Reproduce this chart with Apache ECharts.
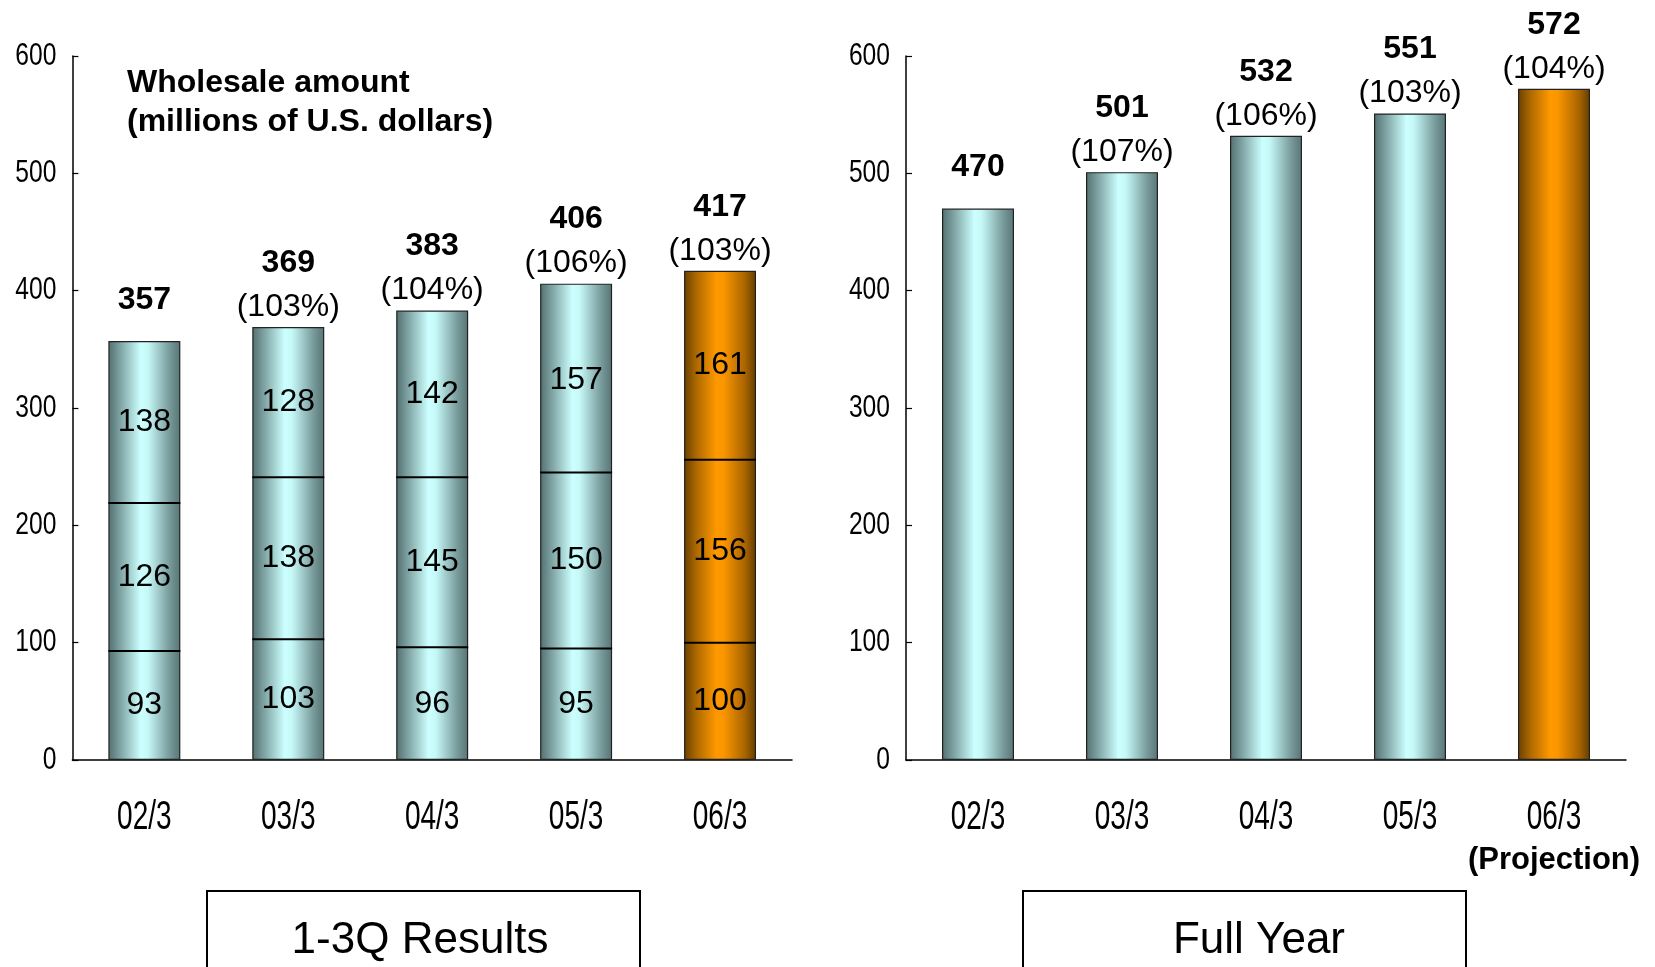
<!DOCTYPE html>
<html>
<head>
<meta charset="utf-8">
<title>Wholesale amount</title>
<script src="https://cdn.jsdelivr.net/npm/echarts@6/dist/echarts.min.js"></script>
<style>
  html, body { margin: 0; padding: 0; background: #fff; }
  #chart { width: 1655px; height: 967px; }
</style>
</head>
<body>
<div id="chart"></div>
<script>
// Fiscal years (year ending March)
const categories = ['02/3', '03/3', '04/3', '05/3', '06/3'];

// 1-3Q results, by quarter (millions of U.S. dollars)
const q1Values = [93, 103, 96, 95, 100];
const q2Values = [126, 138, 145, 150, 156];
const q3Values = [138, 128, 142, 157, 161];
const ytdTotals = [357, 369, 383, 406, 417];
const ytdGrowth = [null, 103, 104, 106, 103];

// Full-year amounts (last one is a projection)
const fullYearTotals = [470, 501, 532, 551, 572];
const fullYearGrowth = [null, 107, 106, 103, 104];

// Value axis range
const yMin = 0;
const yMax = 600;
const yStep = 100;

const highlightIndex = categories.length - 1;

const tealFill = new echarts.graphic.LinearGradient(0, 0, 1, 0, [
  { offset: 0, color: '#527070' },
  { offset: 0.15, color: '#7b9e9e' },
  { offset: 0.45, color: '#ccffff' },
  { offset: 0.55, color: '#c6f8f8' },
  { offset: 0.85, color: '#789a9a' },
  { offset: 1, color: '#577575' }
]);
const orangeFill = new echarts.graphic.LinearGradient(0, 0, 1, 0, [
  { offset: 0, color: '#6a4100' },
  { offset: 0.18, color: '#b06a00' },
  { offset: 0.45, color: '#ff9900' },
  { offset: 0.55, color: '#fa9600' },
  { offset: 0.85, color: '#a86400' },
  { offset: 1, color: '#643e00' }
]);

const sans = 'Liberation Sans, Arial, sans-serif';
// axis tick labels get their own (near-black) ink so they can be found and condensed after layout
const axisInk = '#010101';
const categoryCondense = 0.70;
const valueCondense = 0.77;

function barItems(values) {
  return values.map((v, i) => ({
    value: v,
    itemStyle: { color: i === highlightIndex ? orangeFill : tealFill }
  }));
}

function totalLabel(growth) {
  return {
    show: true,
    position: 'top',
    distance: 0,
    formatter: (p) => {
      const g = growth[p.dataIndex];
      return g == null ? '{v|' + p.value + '}\n{g| }' : '{v|' + p.value + '}\n{p|(' + g + '%)}';
    },
    rich: {
      v: { fontFamily: sans, fontWeight: 'bold', fontSize: 32, lineHeight: 48, color: '#000' },
      p: { fontFamily: sans, fontSize: 32, lineHeight: 40, color: '#000' },
      g: { fontSize: 4, lineHeight: 17 }
    }
  };
}

const segmentLabel = {
  show: true,
  position: 'inside',
  fontFamily: sans,
  fontSize: 32,
  color: '#000'
};

// quarter boundaries inside the 1-3Q bars
const boundaries = [];
categories.forEach((c, i) => {
  boundaries.push([i, q1Values[i]]);
  boundaries.push([i, q1Values[i] + q2Values[i]]);
});

function xAxisFor(gridIndex) {
  return {
    type: 'category',
    gridIndex: gridIndex,
    data: categories,
    axisLine: { lineStyle: { color: '#000', width: 1.5 } },
    axisTick: { inside: true, length: 14, lineStyle: { color: '#333', width: 1.2 } },
    axisLabel: {
      interval: 0,
      margin: 38,
      fontFamily: sans,
      fontSize: 40,
      lineHeight: 40,
      color: axisInk
    }
  };
}

function yAxisFor(gridIndex) {
  return {
    type: 'value',
    gridIndex: gridIndex,
    min: yMin,
    max: yMax,
    interval: yStep,
    splitLine: { show: false },
    axisLine: { show: true, lineStyle: { color: '#000', width: 1.5 } },
    axisTick: { show: true, inside: true, length: 6, lineStyle: { color: '#000', width: 1.2 } },
    axisLabel: { margin: 16, fontFamily: sans, fontSize: 32, color: axisInk }
  };
}

const chart = echarts.init(document.getElementById('chart'), null, { renderer: 'canvas' });

chart.setOption({
  animation: false,
  backgroundColor: '#fff',
  grid: [
    { left: 72, top: 56, width: 720, height: 704 },
    { left: 906, top: 56, width: 720, height: 704 }
  ],
  xAxis: [xAxisFor(0), xAxisFor(1)],
  yAxis: [yAxisFor(0), yAxisFor(1)],
  series: [
    {
      name: '1-3Q total',
      type: 'bar',
      xAxisIndex: 0,
      yAxisIndex: 0,
      barWidth: '50%',
      barGap: '-100%',
      data: barItems(ytdTotals),
      itemStyle: { borderColor: '#222', borderWidth: 1.2 },
      label: totalLabel(ytdGrowth),
      z: 2
    },
    {
      name: 'Q1',
      type: 'bar',
      stack: 'quarters',
      xAxisIndex: 0,
      yAxisIndex: 0,
      barWidth: '50%',
      data: q1Values,
      itemStyle: { color: 'rgba(0,0,0,0)' },
      label: segmentLabel,
      z: 3
    },
    {
      name: 'Q2',
      type: 'bar',
      stack: 'quarters',
      xAxisIndex: 0,
      yAxisIndex: 0,
      barWidth: '50%',
      data: q2Values,
      itemStyle: { color: 'rgba(0,0,0,0)' },
      label: segmentLabel,
      z: 3
    },
    {
      name: 'Q3',
      type: 'bar',
      stack: 'quarters',
      xAxisIndex: 0,
      yAxisIndex: 0,
      barWidth: '50%',
      data: q3Values,
      itemStyle: { color: 'rgba(0,0,0,0)' },
      label: segmentLabel,
      z: 3
    },
    {
      name: 'Quarter boundaries',
      type: 'custom',
      xAxisIndex: 0,
      yAxisIndex: 0,
      data: boundaries,
      z: 4,
      renderItem: (params, api) => {
        const pt = api.coord([api.value(0), api.value(1)]);
        const half = api.size([1, 0])[0] * 0.25;
        return {
          type: 'line',
          shape: { x1: pt[0] - half, y1: pt[1], x2: pt[0] + half, y2: pt[1] },
          style: { stroke: '#000', lineWidth: 2 }
        };
      }
    },
    {
      name: 'Full year',
      type: 'bar',
      xAxisIndex: 1,
      yAxisIndex: 1,
      barWidth: '50%',
      data: barItems(fullYearTotals),
      itemStyle: { borderColor: '#222', borderWidth: 1.2 },
      label: totalLabel(fullYearGrowth)
    }
  ],
  graphic: [
    {
      type: 'text',
      left: 127,
      top: 64,
      style: {
        text: 'Wholesale amount\n(millions of U.S. dollars)',
        fontFamily: sans,
        fontWeight: 'bold',
        fontSize: 32,
        lineHeight: 39,
        fill: '#000'
      }
    },
    {
      type: 'group',
      left: 206,
      top: 890,
      children: [
        { type: 'rect', shape: { x: 0, y: 0, width: 433, height: 120 },
          style: { fill: '#fff', stroke: '#000', lineWidth: 2 } },
        { type: 'text', x: 213, y: 50,
          style: { text: '1-3Q Results', fontFamily: sans, fontSize: 44, fill: '#000',
                   align: 'center', verticalAlign: 'middle' } }
      ]
    },
    {
      type: 'group',
      left: 1022,
      top: 890,
      children: [
        { type: 'rect', shape: { x: 0, y: 0, width: 443, height: 120 },
          style: { fill: '#fff', stroke: '#000', lineWidth: 2 } },
        { type: 'text', x: 236, y: 50,
          style: { text: 'Full Year', fontFamily: sans, fontSize: 44, fill: '#000',
                   align: 'center', verticalAlign: 'middle' } }
      ]
    }
  ]
});

// "(Projection)" note under the last full-year category
const projX = chart.convertToPixel({ xAxisIndex: 1 }, categories[highlightIndex]);
const baseY = chart.convertToPixel({ yAxisIndex: 1 }, yMin);
chart.setOption({
  graphic: [{
    id: 'projection-note',
    type: 'text',
    x: projX,
    y: baseY + 100,
    style: {
      text: '(Projection)',
      fontFamily: sans,
      fontWeight: 'bold',
      fontSize: 31,
      fill: '#000',
      align: 'center',
      verticalAlign: 'middle'
    }
  }]
});

// condense the axis tick labels horizontally (narrow face)
const categorySet = new Set(categories);
function condenseAxisLabels() {
  let changed = false;
  chart.getZr().storage.getDisplayList(true).forEach((el) => {
    if (!el.style || typeof el.style.text !== 'string') return;
    if (el.style.fill !== axisInk) return;
    const target = categorySet.has(el.style.text) ? categoryCondense : valueCondense;
    if (el.scaleX !== target) {
      el.scaleX = target;
      el.markRedraw();
      changed = true;
    }
  });
  if (changed) chart.getZr().refreshImmediately();
}
condenseAxisLabels();
chart.on('finished', condenseAxisLabels);
</script>
</body>
</html>
